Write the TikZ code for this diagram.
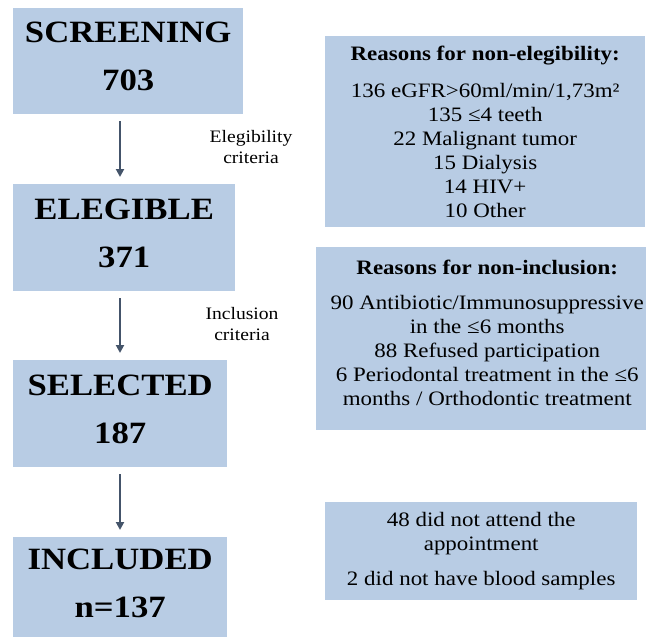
\documentclass[tikz,border=0pt]{standalone}
\usepackage{fontspec}
\setmainfont{Liberation Serif}[FakeStretch = 1.12]
\usetikzlibrary{arrows.meta}
\definecolor{boxblue}{HTML}{B8CCE4}
\definecolor{flowgray}{HTML}{44546A}

\begin{document}
\begin{tikzpicture}[x = 1pt, y = -1pt,
    stage/.style = {fill = boxblue, anchor = north west, align = center,
      inner sep = 0pt, font = \fontsize{31}{37}\selectfont\bfseries},
    reasons/.style = {fill = boxblue, anchor = north west, align = center,
      inner sep = 0pt, font = \fontsize{20.5}{24}\selectfont},
    crit/.style = {align = center, font = \fontsize{17.5}{21}\selectfont},
    flow/.style = {flowgray, line width = 2.2pt,
      -{Triangle[width = 8pt, length = 8pt]},
      shorten < = 7pt, shorten > = 7pt}]

        \clip (0,0) rectangle (646,637);

        % draws the stages
        \node[stage, minimum width = 230pt, minimum height = 106pt]
          (screen) at (13,8) {SCREENING\\[11pt]703\rule[-9pt]{0pt}{0pt}};
        \node[stage, minimum width = 222pt, minimum height = 107pt]
          (eleg) at (13,184) {ELEGIBLE\\[11pt]371\rule[-9pt]{0pt}{0pt}};
        \node[stage, minimum width = 214pt, minimum height = 107pt]
          (select) at (13,360) {SELECTED\\[11pt]187\rule[-9pt]{0pt}{0pt}};
        \node[stage, minimum width = 214pt, minimum height = 100pt]
          (incl) at (13,537) {INCLUDED\\[11pt]n=137\rule[-7pt]{0pt}{0pt}};

        % draws the reasons
        \node[reasons, minimum width = 320pt, minimum height = 191pt]
          (nonelig) at (325,36) {\textbf{Reasons for non-elegibility:}\\[13pt]
          136 eGFR>60ml/min/1,73m²\\ 135 ≤4 teeth\\ 22 Malignant tumor\\
          15 Dialysis\\ 14 HIV+\\ 10 Other};
        \node[reasons, minimum width = 342pt, minimum height = 183pt]
          (noninc) at (316,247) {\textbf{Reasons for non-inclusion:}\\[11pt]
          90 Antibiotic/Immunosuppressive\\ in the ≤6 months\\
          88 Refused participation\\ 6 Periodontal treatment in the ≤6\\
          months / Orthodontic treatment\rule[-11pt]{0pt}{0pt}};
        \node[reasons, minimum width = 312pt, minimum height = 98pt]
          (lost) at (325,502) {48 did not attend the\\ appointment\\[11pt]
          2 did not have blood samples};

        % draws the criteria
        \node[crit] (eligcrit) at (251,147) {Elegibility\\criteria};
        \node[crit] (inclcrit) at (242,324) {Inclusion\\criteria};

        % draws the arrows
        \foreach \a/\b in {screen/eleg, eleg/select, select/incl}
          \draw[flow] ([xshift = 107pt]\a.south west)
            -- ([xshift = 107pt]\b.north west);
      \end{tikzpicture}
\end{document}
